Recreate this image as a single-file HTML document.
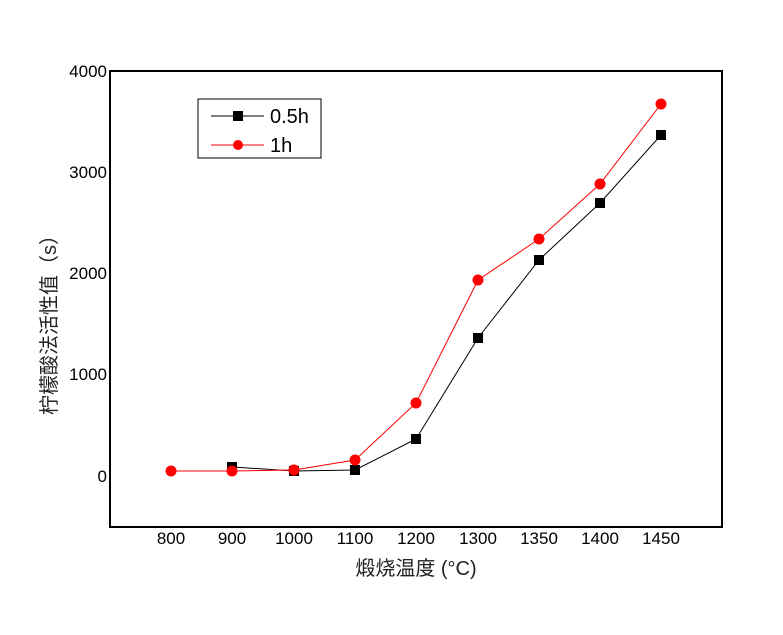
<!DOCTYPE html><html><head><style>body{margin:0;background:#fff}</style></head><body>
<svg width="783" height="630" xmlns="http://www.w3.org/2000/svg" font-family="Liberation Sans, Noto Sans CJK SC, sans-serif">
<rect x="110" y="71" width="612" height="456" fill="none" stroke="#000" stroke-width="2"/>
<g font-size="17" text-anchor="end" fill="#000">
<text x="107" y="77">4000</text><text x="107" y="178">3000</text><text x="107" y="279">2000</text><text x="107" y="380">1000</text><text x="107" y="482">0</text></g>
<g font-size="17" text-anchor="middle">
<text x="171" y="544">800</text><text x="232" y="544">900</text><text x="294" y="544">1000</text><text x="355" y="544">1100</text><text x="416" y="544">1200</text><text x="478" y="544">1300</text><text x="539" y="544">1350</text><text x="600" y="544">1400</text><text x="661" y="544">1450</text></g>
<text x="416" y="575" font-size="20" text-anchor="middle" fill="#222">煅烧温度 (°C)</text>
<text transform="translate(56,320) rotate(-90)" font-size="20" text-anchor="middle" fill="#222">柠檬酸法活性值（s）</text>
<polyline fill="none" stroke="#000" stroke-width="1" points="232,467 294,471 355,470 416,439 478,338 539,260 600,203 661,135"/>
<g fill="#000"><rect x="227" y="462" width="10" height="10"/><rect x="289" y="466" width="10" height="10"/><rect x="350" y="465" width="10" height="10"/><rect x="411" y="434" width="10" height="10"/><rect x="473" y="333" width="10" height="10"/><rect x="534" y="255" width="10" height="10"/><rect x="595" y="198" width="10" height="10"/><rect x="656" y="130" width="10" height="10"/></g>
<polyline fill="none" stroke="#f00" stroke-width="1" points="171,471 232,471 294,470 355,460 416,403 478,280 539,239 600,184 661,104"/>
<g fill="#f00"><circle cx="171" cy="471" r="5.5"/><circle cx="232" cy="471" r="5.5"/><circle cx="294" cy="470" r="5.5"/><circle cx="355" cy="460" r="5.5"/><circle cx="416" cy="403" r="5.5"/><circle cx="478" cy="280" r="5.5"/><circle cx="539" cy="239" r="5.5"/><circle cx="600" cy="184" r="5.5"/><circle cx="661" cy="104" r="5.5"/></g>
<rect x="198" y="99" width="123" height="59" fill="#fff" stroke="#000" stroke-width="1"/>
<line x1="211" y1="116" x2="264" y2="116" stroke="#000"/><rect x="233" y="111" width="10" height="10"/>
<line x1="211" y1="145" x2="264" y2="145" stroke="#f00"/><circle cx="238" cy="145" r="5" fill="#f00"/>
<text x="270" y="123" font-size="20">0.5h</text><text x="270" y="152" font-size="20">1h</text>
</svg></body></html>
